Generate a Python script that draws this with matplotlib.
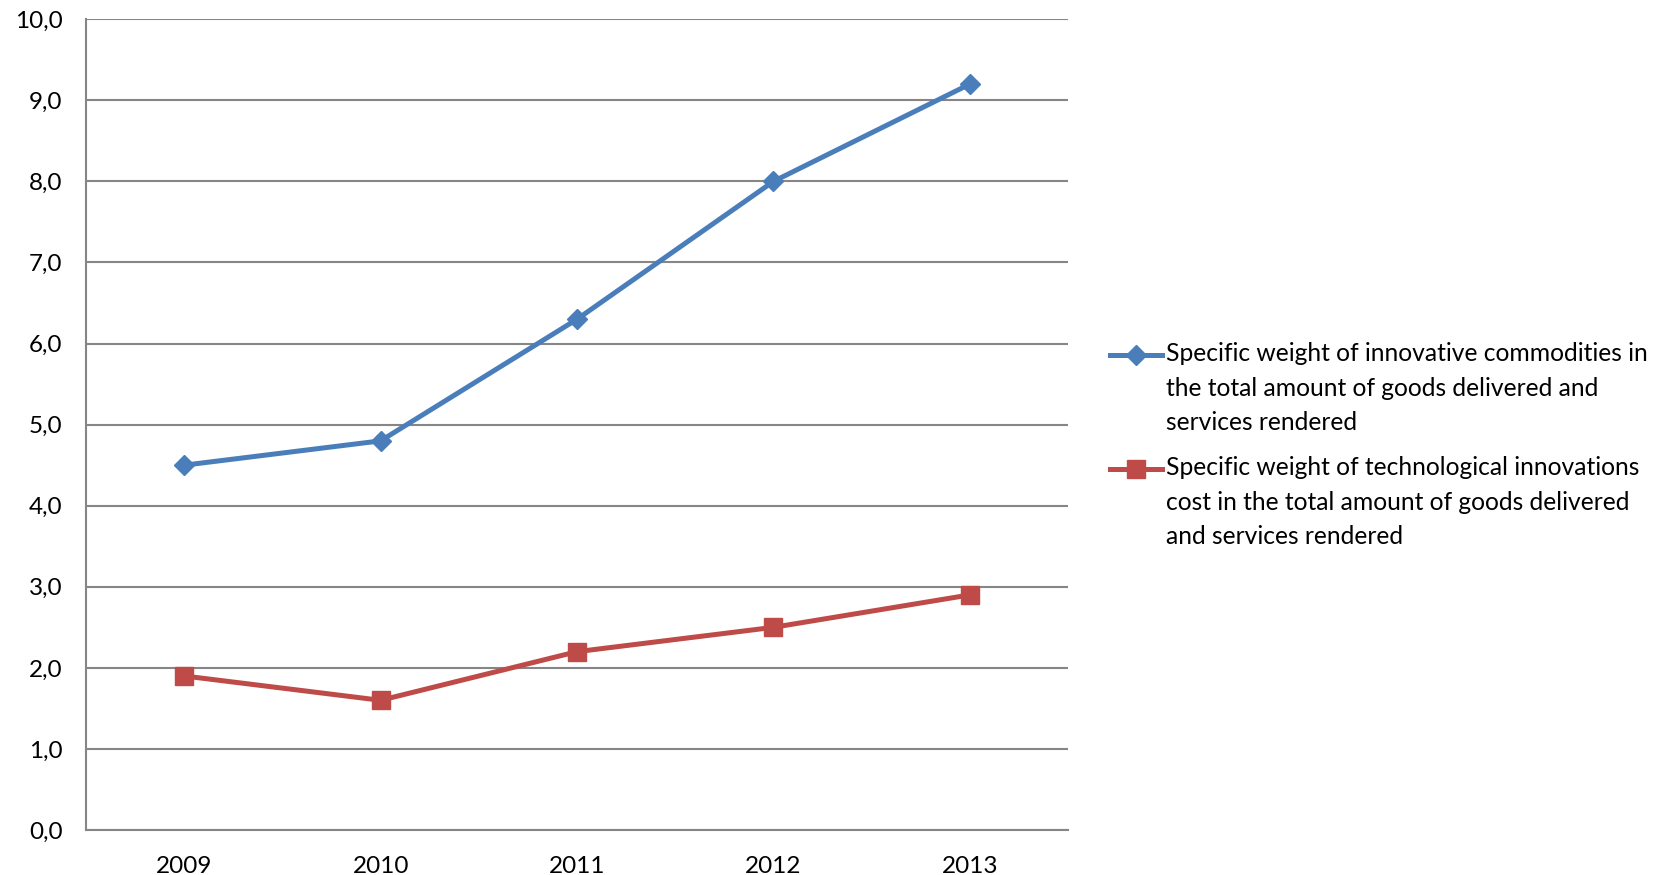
import matplotlib
matplotlib.use("Agg")
import matplotlib.pyplot as plt
from matplotlib.lines import Line2D
from matplotlib.ticker import FuncFormatter

# data
years = ['2009', '2010', '2011', '2012', '2013']
innov_commodities = [4.5, 4.8, 6.3, 8.0, 9.2]
tech_innov_cost = [1.9, 1.6, 2.2, 2.5, 2.9]

label_blue = ('Specific weight of innovative commodities in\n'
              'the total amount of goods delivered and\n'
              'services rendered')
label_red = ('Specific weight of technological innovations\n'
             'cost in the total amount of goods delivered\n'
             'and services rendered')

blue = '#4A7EBB'
red = '#BE4B48'

plt.rcParams['font.family'] = ['Lato', 'DejaVu Sans']

fig = plt.figure(figsize=(16.67, 8.75), dpi=100)
ax = fig.add_axes([0.0516, 0.0514, 0.5891, 0.9266])

x = range(len(years))
ax.plot(x, innov_commodities, color=blue, linewidth=3.6,
        marker='D', markersize=10)
ax.plot(x, tech_innov_cost, color=red, linewidth=3.6,
        marker='s', markersize=13)

ax.set_xlim(-0.5, len(years) - 0.5)
ax.set_ylim(0, 10)
ax.set_yticks(range(0, 11))
ax.yaxis.set_major_formatter(FuncFormatter(lambda v, p: ('%.1f' % v).replace('.', ',')))
ax.set_xticks(list(x))
ax.set_xticklabels(years)
ax.tick_params(axis='both', length=0, labelsize=17.5, colors='black')
ax.tick_params(axis='x', pad=19)
ax.tick_params(axis='y', pad=17)

ax.grid(axis='y', color='#868686', linewidth=1.5)
ax.set_axisbelow(True)
for s in ['top', 'right']:
    ax.spines[s].set_visible(False)
for s in ['left', 'bottom']:
    ax.spines[s].set_color('#868686')
    ax.spines[s].set_linewidth(1.5)

# legend drawn by hand so the key sits next to the first line of each label
for yc, col, mk, ms, lab in [(0.5946, blue, 'D', 10, label_blue),
                             (0.4643, red, 's', 13, label_red)]:
    fig.add_artist(Line2D([0.666, 0.697], [yc, yc], transform=fig.transFigure,
                          color=col, linewidth=3.6))
    fig.add_artist(Line2D([0.6815], [yc], transform=fig.transFigure,
                          color=col, marker=mk, markersize=ms, linestyle='none'))
    fig.text(0.6997, yc + 0.014, lab, fontsize=17.7, va='top', ha='left',
             linespacing=1.6)

fig.savefig('out.png', dpi=100)
